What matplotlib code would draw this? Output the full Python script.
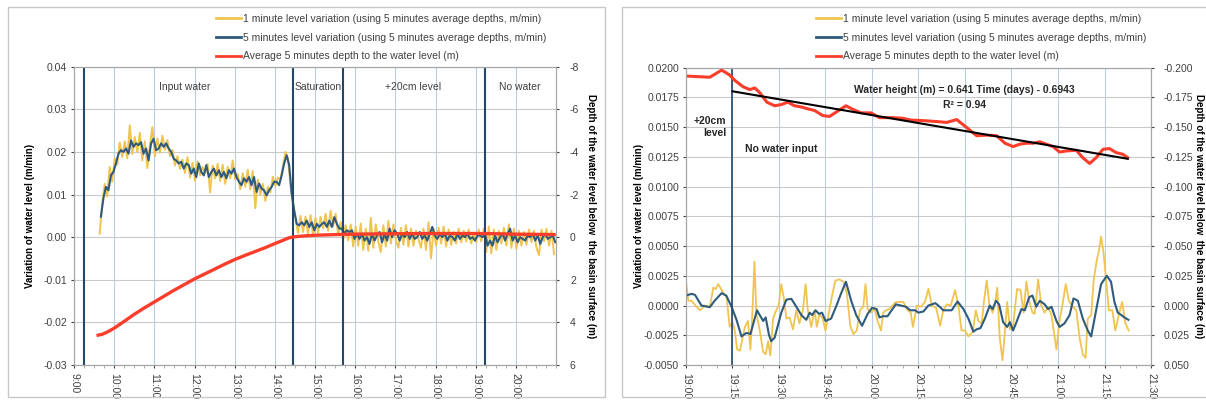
import numpy as np
import matplotlib.pyplot as plt
from matplotlib.patches import Rectangle
from matplotlib.ticker import MultipleLocator, FormatStrFormatter
from matplotlib.lines import Line2D

plt.rcParams['font.family'] = ['Liberation Sans', 'DejaVu Sans']
plt.rcParams['axes.unicode_minus'] = False

# ---------------- left chart (time in hours) ----------------
# 5 minutes level variation, one point every 3.75 min from 9:40
left_blue_start = 9.668
left_blue_step = 0.0625
left_blue = [
    0.0048, 0.0091, 0.0118, 0.0110, 0.0145, 0.0153, 0.0173, 0.0196, 0.0204, 0.0200,
    0.0208, 0.0196, 0.0227, 0.0212, 0.0220, 0.0216, 0.0223, 0.0196, 0.0208, 0.0180,
    0.0220, 0.0231, 0.0204, 0.0208, 0.0220, 0.0212, 0.0220, 0.0208, 0.0200, 0.0184,
    0.0180, 0.0173, 0.0177, 0.0161, 0.0173, 0.0169, 0.0149, 0.0161, 0.0141, 0.0173,
    0.0153, 0.0145, 0.0169, 0.0141, 0.0153, 0.0161, 0.0145, 0.0157, 0.0141, 0.0153,
    0.0138, 0.0157, 0.0149, 0.0161, 0.0141, 0.0130, 0.0122, 0.0138, 0.0130, 0.0141,
    0.0122, 0.0141, 0.0106, 0.0126, 0.0114, 0.0110, 0.0098, 0.0110, 0.0118, 0.0130,
    0.0130, 0.0122, 0.0145, 0.0173, 0.0192, 0.0169, 0.0102, 0.0063,
    0.0031, 0.0028, 0.0035, 0.0028, 0.0039, 0.0024, 0.0035, 0.0016, 0.0031, 0.0024,
    0.0031, 0.0035, 0.0024, 0.0039, 0.0024, 0.0047, 0.0031, 0.0020, 0.0020, 0.0008,
    0.0016, 0.0012, 0.0016, -0.0004, 0.0008, -0.0004, 0.0008, -0.0008, 0.0000, -0.0016,
    0.0008, -0.0008, 0.0004, 0.0012, -0.0012, 0.0008, -0.0008, 0.0020, 0.0000, 0.0016,
    0.0008, -0.0008, 0.0008, 0.0000, 0.0012, -0.0004, 0.0008, -0.0004, 0.0000, 0.0012,
    -0.0004, 0.0004, -0.0008, 0.0008, 0.0024, 0.0004, -0.0004, 0.0008, 0.0000, 0.0008,
    -0.0008, 0.0004, 0.0000, -0.0008, 0.0008, -0.0004, 0.0004, 0.0000, 0.0008, -0.0004,
    0.0000, -0.0008, 0.0004, 0.0004, 0.0000, 0.0008, -0.0020, -0.0008, -0.0020, 0.0004,
    -0.0012, 0.0000, 0.0008, -0.0008, 0.0008, 0.0020, -0.0008, 0.0004, -0.0012, 0.0000,
    -0.0004, -0.0008, 0.0004, 0.0000, 0.0008, -0.0008, 0.0004, -0.0016, 0.0000, 0.0008,
    -0.0004, 0.0000, 0.0004, -0.0012,
]

# 1 minute level variation (read between the blue points)
left_yellow_start = 9.637
left_yellow_step = 0.0625
left_yellow = [
    0.0008, 0.0075, 0.0125, 0.0095, 0.0165, 0.0130, 0.0185, 0.0170, 0.0222, 0.0188,
    0.0225, 0.0185, 0.0262, 0.0195, 0.0235, 0.0200, 0.0245, 0.0180, 0.0225, 0.0162,
    0.0215, 0.0258, 0.0190, 0.0232, 0.0198, 0.0238, 0.0205, 0.0228, 0.0190, 0.0205,
    0.0168, 0.0190, 0.0160, 0.0182, 0.0150, 0.0188, 0.0140, 0.0175, 0.0132, 0.0178,
    0.0145, 0.0165, 0.0150, 0.0172, 0.0105, 0.0168, 0.0138, 0.0172, 0.0132, 0.0170,
    0.0125, 0.0165, 0.0138, 0.0180, 0.0135, 0.0148, 0.0112, 0.0150, 0.0118, 0.0158,
    0.0112, 0.0155, 0.0068, 0.0135, 0.0100, 0.0125, 0.0085, 0.0118, 0.0105, 0.0142,
    0.0120, 0.0140, 0.0135, 0.0165, 0.0200, 0.0185, 0.0125, 0.0075,
    0.0045, 0.0010, 0.0050, 0.0012, 0.0048, 0.0008, 0.0052, 0.0002, 0.0045, 0.0010,
    0.0048, 0.0020, 0.0055, 0.0015, 0.0062, 0.0025, 0.0055, 0.0005, 0.0035, -0.0005,
    0.0028, -0.0008, 0.0030, -0.0022, 0.0025, -0.0020, 0.0032, -0.0030, 0.0020, -0.0032,
    0.0045, -0.0025, 0.0030, -0.0010, -0.0035, 0.0028, -0.0022, 0.0038, -0.0015, 0.0030,
    -0.0008, -0.0025, 0.0022, -0.0018, 0.0028, -0.0022, 0.0020, -0.0020, 0.0015, -0.0005,
    -0.0025, 0.0020, -0.0030, 0.0035, -0.0050, 0.0020, -0.0020, 0.0022, -0.0015, 0.0025,
    -0.0022, 0.0018, -0.0018, 0.0012, -0.0015, 0.0020, -0.0012, 0.0015, -0.0010, 0.0018,
    -0.0015, 0.0010, -0.0012, 0.0018, -0.0010, 0.0020, -0.0035, 0.0025, -0.0038, 0.0018,
    -0.0030, 0.0015, -0.0015, 0.0022, -0.0020, 0.0030, -0.0025, 0.0020, -0.0028, 0.0015,
    -0.0020, 0.0012, -0.0018, 0.0018, -0.0012, 0.0015, -0.0025, -0.0042, 0.0018, -0.0010,
    0.0020, -0.0020, 0.0015, -0.0040,
]

# average 5 minutes depth to the water level (m), right axis
left_red_time = [9.60, 9.70, 9.80, 9.90, 10.00, 10.25, 10.50, 10.75, 11.00, 11.25,
                 11.50, 11.75, 12.00, 12.25, 12.50, 12.75, 13.00, 13.25, 13.50, 13.75,
                 14.00, 14.20, 14.35, 14.50, 14.75, 15.00, 15.50, 16.00, 17.00, 18.00,
                 19.00, 19.50, 20.00, 20.50, 20.95]
left_red_depth = [4.60, 4.56, 4.48, 4.38, 4.27, 3.95, 3.62, 3.32, 3.04, 2.76,
                  2.48, 2.22, 1.96, 1.73, 1.50, 1.27, 1.05, 0.86, 0.68, 0.50,
                  0.30, 0.15, 0.03, -0.02, -0.06, -0.09, -0.12, -0.14, -0.16, -0.17,
                  -0.17, -0.16, -0.14, -0.13, -0.12]

left_phase_lines = [9.25, 14.45, 15.70, 19.22]
left_phase_names = ['Input water', 'Saturation', '+20cm level', 'No water']
left_phase_x = [11.76, 15.08, 17.43, 20.10]
left_hours = [9, 10, 11, 12, 13, 14, 15, 16, 17, 18, 19, 20]
left_hour_labels = ['9:00', '10:00', '11:00', '12:00', '13:00', '14:00', '15:00',
                    '16:00', '17:00', '18:00', '19:00', '20:00']

# ---------------- right chart (minutes after 19:00) ----------------
right_red_min = [0, 7.7, 11.5, 14, 15.7, 18.4, 20.6, 22.2, 23.8, 26.1,
                 28.6, 30.7, 32.9, 35, 37.2, 39.3, 41.5, 44.1, 46.3, 48.4,
                 51.6, 53.8, 56.5, 59.7, 62.4, 66.6, 69.9, 72.5, 76.6, 80.9,
                 84.1, 87.3, 90.5, 93.75, 97, 100.2, 102.9, 105.5, 107.7, 109.8,
                 112, 114.1, 116.25, 118.4, 120.5, 122.7, 125.9, 128, 130.2, 132.3,
                 134.5, 136.6, 138.75, 140.9, 142.5]
right_red_depth = [-0.193, -0.192, -0.198, -0.194, -0.1895, -0.184, -0.1816, -0.183, -0.179, -0.171,
                   -0.168, -0.169, -0.171, -0.168, -0.167, -0.1654, -0.164, -0.1598, -0.159, -0.1626,
                   -0.168, -0.165, -0.162, -0.162, -0.158, -0.158, -0.1575, -0.156, -0.1555, -0.1547,
                   -0.154, -0.1564, -0.1498, -0.1428, -0.1433, -0.1428, -0.1365, -0.1337, -0.1357, -0.1365,
                   -0.1365, -0.1377, -0.1357, -0.1337, -0.1291, -0.130, -0.1306, -0.1243, -0.1195, -0.1243,
                   -0.1314, -0.132, -0.1286, -0.1272, -0.1243]

right_blue_min = [0, 1.8, 2.9, 5, 7.7, 9.3, 11.5, 13, 14.7, 16.3,
                  17.9, 19.5, 20.8, 22.9, 24.9, 25.7, 26.8, 27.5, 28.6, 30.75,
                  32.4, 34, 35.6, 37.2, 38.8, 39.9, 40.7, 41.8, 42.9, 43.9,
                  45, 46.8, 48.4, 50, 51.6, 53.3, 54.9, 56.8, 58.6, 60,
                  61.5, 62.4, 63.6, 65, 66.6, 67.7, 69.3, 70.9, 72.4, 73.9,
                  75, 76.6, 78.2, 80.4, 81.4, 83, 85.7, 87.6, 89.5, 91.1,
                  92.7, 93.75, 95, 96.4, 98, 98.9, 100, 101, 102.3, 103.6,
                  104.5, 105.5, 106.6, 108.2, 109.3, 110.7, 111.75, 113, 114.1, 115.7,
                  116.8, 117.9, 119.5, 120.5, 122.1, 123.75, 125, 126.4, 128, 129.6,
                  130.7, 132.3, 133.9, 135.75, 137.1, 138.2, 139.3, 140.4, 141.4, 142.7]
right_blue = [0.00084, 0.00098, 0.0009, 0.0, -0.00014, 0.00042, 0.00104, 0.00084, -0.0001, -0.0012,
              -0.0026, -0.0023, -0.0024, -0.0004, -0.0013, -0.0010, -0.0025, -0.0030, -0.0027, -0.0006,
              0.0005, 0.00056, -0.0001, -0.0008, -0.0012, -0.0006, -0.0008, -0.0004, -0.0007, -0.0006,
              -0.0013, -0.0011, -0.0001, 0.0010, 0.0020, 0.0004, -0.0008, -0.0017, -0.0007, -0.0002,
              -0.0003, -0.0010, -0.0009, -0.0009, -0.0003, 0.0001, 0.0, -0.0001, -0.0004, -0.0004,
              -0.0006, -0.0005, 0.0, 0.0002, 0.0, -0.0004, -0.0004, 0.00034, -0.0003, -0.0011,
              -0.0022, -0.0020, -0.0019, -0.0011, 0.0, -0.0003, 0.0004, 0.0001, -0.0014, -0.0018,
              -0.0014, -0.0021, -0.0014, -0.0003, -0.0004, 0.0007, 0.00084, -0.0001, 0.0004, 0.0001,
              -0.0003, -0.0001, -0.0013, -0.0018, -0.0015, -0.0008, 0.0006, 0.0004, -0.0011, -0.0021,
              -0.0026, -0.0004, 0.0018, 0.0025, 0.0020, 0.0003, -0.0006, -0.0008, -0.0010, -0.0012]

right_yellow_min = [0, 0.75, 1.8, 3.4, 4.5, 6.1, 7.7, 8.8, 9.6, 10.4,
                    11.1, 12, 13.1, 14.1, 15, 15.75, 16.5, 17.4, 18.2, 19,
                    20, 20.8, 21.4, 22.1, 22.7, 23.8, 24.9, 25.7, 26.5, 27.2,
                    28.1, 29.1, 29.9, 30.75, 31.5, 32.4, 33.4, 34.5, 35.6, 36.6,
                    37.7, 38.6, 39.3, 40.4, 41.5, 42.2, 43.1, 44.1, 45, 46.1,
                    47.1, 48.2, 49.5, 50.8, 51.9, 53, 54, 55.1, 56.1, 57.2,
                    57.9, 58.6, 59.7, 60.8, 61.8, 62.9, 63.6, 64.5, 65.6, 66.6,
                    67.7, 69, 70.1, 71.5, 72.5, 73.2, 74.5, 75.75, 77.1, 78.2,
                    79.3, 80.7, 82, 83, 84.1, 85.4, 86.8, 87.9, 88.9, 90,
                    91.1, 92.5, 93.5, 94.3, 95.4, 96.1, 97, 97.9, 98.9, 99.6,
                    100.4, 101.2, 102.1, 102.9, 103.6, 104.5, 105.5, 106.8, 107.9, 108.9,
                    109.8, 110.7, 111.75, 112.5, 113.6, 114.6, 115.7, 116.8, 117.9, 118.6,
                    119.5, 120.4, 121.4, 122.5, 123.5, 124.8, 125.9, 126.96, 128, 128.9,
                    129.6, 130.7, 131.5, 132.5, 133.2, 133.9, 134.7, 135.5, 136.4, 137.5,
                    138.5, 139.6, 140.7, 141.75, 142.8]
right_yellow = [0.0020, 0.0004, 0.0004, -0.0001, -0.0004, 0.0, -0.0001, 0.0015, 0.0014, 0.0018,
                0.0015, 0.0011, 0.0007, -0.0018, -0.0014, -0.0021, -0.0037, -0.0038, -0.0028, -0.0018,
                -0.0013, -0.0037, -0.0007, 0.0037, -0.0006, -0.0021, -0.0039, -0.0041, -0.0030, -0.0042,
                -0.0011, -0.0004, 0.0, 0.0018, 0.0007, -0.0011, -0.0010, -0.0020, -0.0004, -0.0015,
                -0.0004, 0.0018, -0.0004, -0.0018, -0.0004, -0.0018, -0.0007, -0.0011, -0.0021, -0.0006,
                0.0008, 0.0021, 0.0022, 0.0020, 0.0010, -0.0017, -0.0024, -0.0021, -0.0004, -0.0001,
                0.0018, -0.0003, -0.0006, -0.0002, -0.0013, -0.0021, -0.0006, -0.0004, -0.0003, 0.0,
                0.0003, 0.0003, 0.0003, -0.0004, -0.0006, -0.0018, 0.0, -0.0001, 0.0003, 0.0014,
                0.0, -0.0002, -0.0017, -0.0004, 0.0001, 0.0, 0.0013, -0.0001, -0.0021, -0.0021,
                -0.0026, -0.0022, -0.0004, -0.0013, -0.0015, 0.0003, 0.0021, 0.0, -0.0006, 0.0,
                0.0015, -0.0027, -0.0046, -0.0021, 0.0003, -0.0020, -0.0017, 0.0014, 0.0013, -0.0006,
                0.0020, 0.0004, -0.0006, -0.0007, 0.0022, 0.0, -0.0006, -0.0001, -0.0008, -0.0021,
                -0.0037, -0.0014, 0.0, 0.0018, 0.0004, -0.0001, -0.0004, -0.0027, -0.0041, -0.0044,
                -0.0011, -0.0008, 0.0021, 0.0038, 0.0046, 0.0058, 0.0044, 0.0022, -0.0004, -0.0004,
                -0.0021, -0.0008, 0.0003, -0.0015, -0.0021]

# linear fit shown on the chart: Water height = 0.641 Time (days) - 0.6943
trend_slope = 0.641
trend_intercept = -0.6943
trend_min = [15, 142.5]
right_line_min = 15
right_ticks = [0, 15, 30, 45, 60, 75, 90, 105, 120, 135, 150]
right_tick_labels = ['19:00', '19:15', '19:30', '19:45', '20:00', '20:15',
                     '20:30', '20:45', '21:00', '21:15', '21:30']

legend_labels = ['1 minute level variation (using 5 minutes average depths, m/min)',
                 '5 minutes level variation (using 5 minutes average depths, m/min)',
                 'Average 5 minutes depth to the water level (m)']

# colours
c_yellow = '#efc450'
c_blue = '#2f5b7c'
c_red = '#fb3d2b'
c_phase = '#23476b'
c_text = '#404040'

fig = plt.figure(figsize=(12.06, 4.05), dpi=100)

# light frames around each chart
for x0, x1 in [(8, 605), (622, 1212)]:
    fig.patches.append(Rectangle((x0 / 1206, 8 / 405), (x1 - x0) / 1206, 390 / 405,
                                 transform=fig.transFigure, fill=False,
                                 edgecolor='#c8c8c8', lw=1))


def style_axes(ax, ax2, right_pad):
    ax.tick_params(axis='both', labelsize=7.5, colors=c_text, length=2.5, width=0.8)
    ax.tick_params(axis='y', pad=2.5)
    ax.tick_params(axis='x', which='minor', length=2, color='#a0a0a0')
    ax2.tick_params(axis='y', labelsize=7.5, colors=c_text, length=2.5, width=0.8,
                    pad=right_pad)
    for a in (ax, ax2):
        for s in a.spines.values():
            s.set_color('#a6a6a6')
            s.set_linewidth(0.8)
    ax.grid(True, axis='x', color='#b9cde3', lw=0.8)
    ax.grid(True, axis='y', color='#c9c9c9', lw=0.8)
    ax.set_axisbelow(True)
    for lab in ax.get_xticklabels():
        lab.set_rotation(270)
        lab.set_fontsize(7.5)


# ---------------- left chart ----------------
axL = fig.add_axes([0.0614, 0.0988, 0.3997, 0.7365])
axL2 = axL.twinx()

tb = left_blue_start + left_blue_step * np.arange(len(left_blue))
ty = left_yellow_start + left_yellow_step * np.arange(len(left_yellow))
axL.plot(ty, left_yellow, color=c_yellow, lw=1.4)
axL.plot(tb, left_blue, color=c_blue, lw=1.5)
for t in left_phase_lines:
    axL.axvline(t, color=c_phase, lw=1.5)
for name, t in zip(left_phase_names, left_phase_x):
    axL.text(t, 0.0353, name, ha='center', va='center', fontsize=7.5, color=c_text)
axL2.plot(left_red_time, left_red_depth, color=c_red, lw=2.4)

axL.set_xlim(9, 21)
axL.set_ylim(-0.03, 0.04)
axL.set_xticks(left_hours)
axL.set_xticklabels(left_hour_labels)
axL.xaxis.set_minor_locator(MultipleLocator(0.25))
axL.yaxis.set_major_locator(MultipleLocator(0.01))
axL.yaxis.set_major_formatter(FormatStrFormatter('%.2f'))
axL2.set_ylim(6, -8)
axL2.yaxis.set_major_locator(MultipleLocator(2))
axL2.yaxis.set_major_formatter(FormatStrFormatter('%d'))
style_axes(axL, axL2, 7.5)

axL.set_ylabel('Variation of water level (m/min)', fontsize=7, fontweight='bold')
axL.yaxis.set_label_coords(-0.08, 0.5)
axL2.set_ylabel('Depth of the water level below  the basin surface (m)', fontsize=7,
                fontweight='bold', rotation=270, va='bottom')
axL2.yaxis.set_label_coords(1.062, 0.5)

# ---------------- right chart ----------------
axR = fig.add_axes([0.5688, 0.0988, 0.3856, 0.734])
axR2 = axR.twinx()

axR.plot(right_yellow_min, right_yellow, color=c_yellow, lw=1.3)
axR.plot(right_blue_min, right_blue, color=c_blue, lw=1.5)
axR.axvline(right_line_min, color=c_phase, lw=1.2)
axR2.plot(right_red_min, right_red_depth, color=c_red, lw=2.2)
trend_days = (19 + np.array(trend_min) / 60) / 24
axR2.plot(trend_min, trend_slope * trend_days + trend_intercept, color='black', lw=1.5)

axR.text(13.1, 0.0150, '+20cm\nlevel', ha='right', va='center', fontsize=7.5,
         fontweight='bold', color='#262626', multialignment='right', linespacing=1.3)
axR.text(19.0, 0.01315, 'No water input', ha='left', va='center', fontsize=7.5,
         fontweight='bold', color='#262626')
axR.text(89.8, 0.0181, 'Water height (m) = 0.641 Time (days) - 0.6943', ha='center',
         va='center', fontsize=7.5, fontweight='bold', color='#262626')
axR.text(89.8, 0.01683, 'R² = 0.94', ha='center', va='center', fontsize=7.5,
         fontweight='bold', color='#262626')

axR.set_xlim(0, 150)
axR.set_ylim(-0.005, 0.02)
axR.set_xticks(right_ticks)
axR.set_xticklabels(right_tick_labels)
axR.xaxis.set_minor_locator(MultipleLocator(5))
axR.yaxis.set_major_locator(MultipleLocator(0.0025))
axR.yaxis.set_major_formatter(FormatStrFormatter('%.4f'))
axR2.set_ylim(0.05, -0.2)
axR2.yaxis.set_major_locator(MultipleLocator(0.025))
axR2.yaxis.set_major_formatter(FormatStrFormatter('%.3f'))
style_axes(axR, axR2, 6.5)

axR.set_ylabel('Variation of water level (m/min)', fontsize=7, fontweight='bold')
axR.yaxis.set_label_coords(-0.09, 0.5)
axR2.set_ylabel('Depth of the water level below  the basin surface (m)', fontsize=7,
                fontweight='bold', rotation=270, va='bottom')
axR2.yaxis.set_label_coords(1.092, 0.5)

# legends above each chart
handles = [Line2D([], [], color=c_yellow, lw=2),
           Line2D([], [], color=c_blue, lw=2),
           Line2D([], [], color=c_red, lw=2)]
for x in [216 / 1206, 816 / 1206]:
    fig.legend(handles, legend_labels, loc='upper left', bbox_to_anchor=(x, 0.966),
               frameon=False, fontsize=7.5, handlelength=2.4, handletextpad=0.2,
               labelspacing=0.85, borderpad=0, borderaxespad=0, labelcolor=c_text)

plt.savefig('out.png', dpi=100)
